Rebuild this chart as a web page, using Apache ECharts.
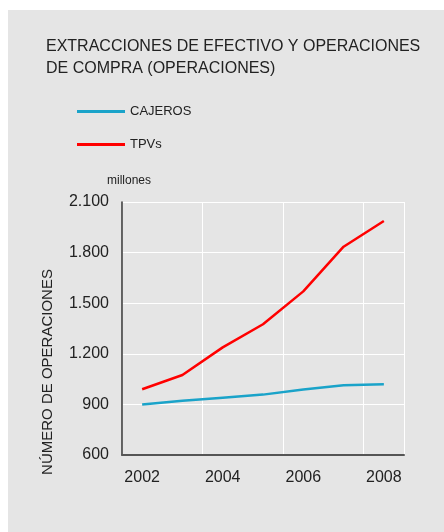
<!DOCTYPE html>
<html>
<head>
<meta charset="utf-8">
<script src="https://cdn.jsdelivr.net/npm/echarts@6/dist/echarts.min.js"></script>
<style>
  html, body { margin: 0; padding: 0; background: #fff; }
  #chart { width: 444px; height: 532px; }
</style>
</head>
<body>
<div id="chart"></div>
<script>
// años
var years = ['2002', '2003', '2004', '2005', '2006', '2007', '2008'];
// millones de operaciones
var cajeros = [900, 922, 940, 958, 988, 1013, 1020];
var tpvs = [990, 1074, 1238, 1375, 1570, 1835, 1987];
var yTicks = [600, 900, 1200, 1500, 1800, 2100];

function fmt(v) {
    return String(v).replace(/\B(?=(\d{3})+(?!\d))/g, '.');
}

var font = '"Liberation Sans", Arial, sans-serif';
var chart = echarts.init(document.getElementById('chart'));
chart.setOption({
    animation: false,
    backgroundColor: '#fff',
    textStyle: { fontFamily: font },
    graphic: [
        { type: 'rect', left: 8, top: 10, z: -10,
          shape: { width: 436, height: 522 }, style: { fill: '#e5e5e5' } },
        { type: 'text', left: 46, top: 36,
          style: { text: 'EXTRACCIONES DE EFECTIVO Y OPERACIONES\nDE COMPRA (OPERACIONES)',
                   font: '16px ' + font, fill: '#222', lineHeight: 22 } },
        { type: 'text', x: 129, y: 181,
          style: { text: 'millones', font: '12px ' + font, fill: '#222',
                   align: 'center', verticalAlign: 'middle' } },
        { type: 'text', x: 48, y: 372, rotation: Math.PI / 2,
          style: { text: 'NÚMERO DE OPERACIONES', font: '15px ' + font, fill: '#222',
                   align: 'center', verticalAlign: 'middle' } }
    ],
    legend: {
        orient: 'vertical',
        left: 77,
        top: 105,
        padding: 0,
        itemWidth: 48,
        itemHeight: 3,
        itemGap: 20,
        icon: 'rect',
        textStyle: { fontSize: 13, color: '#222' },
        data: [
            { name: 'CAJEROS', itemStyle: { color: '#1aa3c9' } },
            { name: 'TPVs', itemStyle: { color: '#ff0000' } }
        ]
    },
    grid: { left: 122, right: 40, top: 202, bottom: 77 },
    xAxis: {
        type: 'category',
        data: years,
        boundaryGap: true,
        axisLine: { lineStyle: { color: '#555', width: 2 } },
        axisTick: { show: false },
        axisLabel: { interval: 1, fontSize: 16, color: '#222', margin: 15 },
        splitLine: { show: true, interval: 1, lineStyle: { color: '#fff', width: 1 } }
    },
    yAxis: {
        type: 'value',
        min: yTicks[0],
        max: yTicks[yTicks.length - 1],
        interval: 300,
        axisLine: { show: true, lineStyle: { color: '#333', width: 1.5 } },
        axisTick: { show: false },
        axisLabel: { fontSize: 16, color: '#222', margin: 13, formatter: fmt },
        splitLine: { lineStyle: { color: '#fff', width: 1 } }
    },
    series: [
        { name: 'CAJEROS', type: 'line', data: cajeros, symbol: 'none',
          lineStyle: { color: '#1aa3c9', width: 2.5 }, itemStyle: { color: '#1aa3c9' } },
        { name: 'TPVs', type: 'line', data: tpvs, symbol: 'none',
          lineStyle: { color: '#ff0000', width: 2.5 }, itemStyle: { color: '#ff0000' } }
    ]
});
</script>
</body>
</html>
